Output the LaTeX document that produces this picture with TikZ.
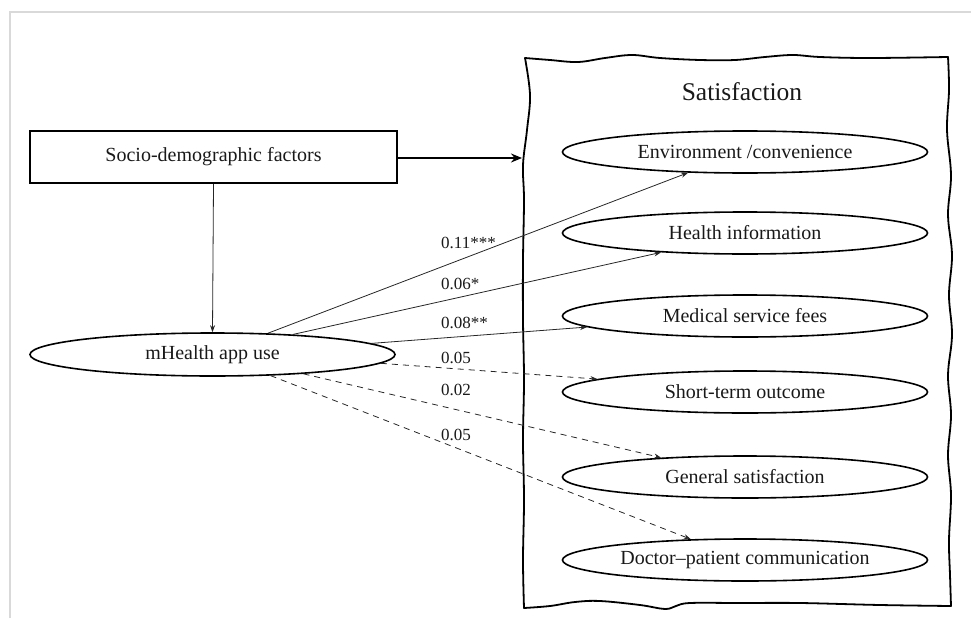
\documentclass[tikz,border=0pt]{standalone}
\usepackage{fontspec}
\setmainfont{Liberation Serif}
\usetikzlibrary{shapes.geometric,arrows.meta}
\begin{document}
\begin{tikzpicture}[x=1pt,y=-1pt,
  oval/.style={draw=black,line width=1.6pt,ellipse,minimum width=365pt,minimum height=42pt,inner sep=0pt,font=\fontsize{20}{24}\selectfont,text=black!90},
  rectbox/.style={draw=black,line width=2pt,rectangle,minimum width=367pt,minimum height=52pt,inner sep=0pt,font=\fontsize{20}{24}\selectfont,text=black!90},
  coef/.style={font=\fontsize{17}{20}\selectfont,anchor=west,inner sep=0pt,text=black!90},
  sigarrow/.style={line width=0.8pt,draw=black!85,-{Stealth[length=7pt,width=5pt]}},
  nsarrow/.style={sigarrow,dash pattern=on 6pt off 5pt},
  bigarrow/.style={line width=1.8pt,draw=black,-{Stealth[length=11pt,width=9pt]}},
  frameline/.style={draw=black!15,line width=1.5pt},
  wavy/.style={line width=1.8pt,line join=round,line cap=round}]
\useasboundingbox (0,0) rectangle (971,618);
\draw[frameline] (10,618) -- (10,12) -- (971,12);
% hand-drawn container
\draw[wavy] plot[smooth,tension=0.6] coordinates {(525,58) (550,60) (578,62) (605,58) (632,55) (660,58) (700,60) (735,60) (765,57) (793,55) (820,57) (870,58) (948,57)};
\draw[wavy] plot[smooth,tension=0.6] coordinates {(948,57) (949,90) (947,130) (951,175) (948,215) (952,255) (949,295) (952,335) (948,375) (951,415) (948,455) (951,495) (949,540) (950,575) (951,606)};
\draw[wavy] plot[smooth,tension=0.6] coordinates {(951,606) (880,605) (800,603) (740,603) (690,603) (676,606) (665,609) (640,605) (600,601) (575,602) (550,606) (524,608)};
\draw[wavy] plot[smooth,tension=0.6] coordinates {(524,608) (523,560) (524,500) (523,440) (524,380) (523,320) (523,260) (524,200) (523,165) (527,130) (530,95) (525,58)};
% nodes
\node[font=\fontsize{25.5}{30}\selectfont,text=black!90] (sat) at (742,92) {Satisfaction};
\node[rectbox] (soc) at (213.5,157) {Socio-demographic factors};
\node[oval,minimum height=43pt] (mh) at (212.5,354.5) {mHealth app use};
\node[oval] (env) at (745,152) {Environment /convenience};
\node[oval] (hi) at (745,233) {Health information};
\node[oval] (msf) at (745,316) {Medical service fees};
\node[oval] (sto) at (745,392) {Short-term outcome};
\node[oval] (gs) at (745,477) {General satisfaction};
\node[oval] (dpc) at (745,560) {Doctor--patient communication};
\coordinate (satleft) at (522,158);
% connectors
\draw[bigarrow] (soc.east |- satleft) -- (satleft);
\draw[sigarrow] (soc.south) -- (mh.north);
\draw[sigarrow] (mh.21) -- (env.200);
\draw[sigarrow] (mh.14) -- (hi.193);
\draw[sigarrow] (mh.4.6) -- (msf.184.4);
\draw[nsarrow] (mh.-3.5) -- (sto.175.6);
\draw[nsarrow] (mh.-12) -- (gs.167.2);
\draw[nsarrow] (mh.-20.7) -- (dpc.159.2);
% coefficients
\node[coef] (c1) at (441,243) {0.11***};
\node[coef] (c2) at (441,284) {0.06*};
\node[coef] (c3) at (441,323) {0.08**};
\node[coef] (c4) at (441,358) {0.05};
\node[coef] (c5) at (441,390) {0.02};
\node[coef] (c6) at (441,435) {0.05};
\end{tikzpicture}
\end{document}
